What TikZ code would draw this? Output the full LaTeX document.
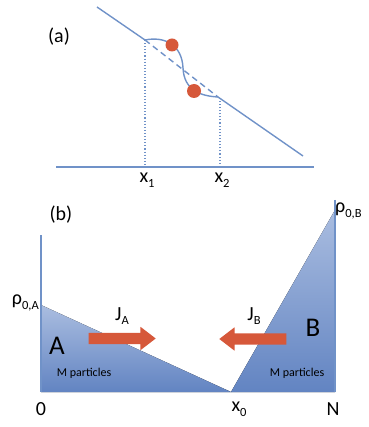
\documentclass[tikz,border=0pt]{standalone}
\usepackage{fontspec}
\setmainfont{Carlito}
\usetikzlibrary{shapes.arrows}
\definecolor{lineblue}{RGB}{112,146,200}
\definecolor{filltop}{RGB}{170,189,224}
\definecolor{fillbot}{RGB}{98,132,194}
\definecolor{dotred}{RGB}{214,88,58}
\newcommand{\lowsub}[1]{\raisebox{-0.5ex}{\fontsize{12.5}{13}\selectfont #1}}

\begin{document}
\begin{tikzpicture}[x=1pt,y=-1pt,
  font=\fontsize{20}{22}\selectfont,
  ln/.style={draw=lineblue,line width=1.4pt},
  dotline/.style={draw=lineblue,line width=1.1pt,dotted},
  dot/.style={circle,fill=dotred,inner sep=0pt,minimum size=#1},
  region/.style={top color=filltop,bottom color=fillbot,draw=none},
  flux/.style={single arrow,fill=dotred,draw=none,inner xsep=0pt,inner ysep=5.5pt,
    minimum height=67pt,single arrow head extend=6pt,single arrow tip angle=75,
    single arrow head indent=0pt},
  lbl/.style={inner sep=1pt}]
\useasboundingbox (0,0) rectangle (368,427);
% (a) profile with the two particles
\coordinate (p0) at (97,7);
\coordinate (p1) at (145,40);
\coordinate (pm) at (183,68);
\coordinate (p2) at (218,97);
\coordinate (p3) at (303,156);
\coordinate (ax0) at (56,167);
\coordinate (ax1) at (314,167);
\coordinate (f1) at (145,167);
\coordinate (f2) at (220,167);
\node[lbl] (la) at (59,37) {(a)};
\draw[ln] (ax0) -- (ax1);
\draw[dotline] (p1) -- (f1);
\draw[dotline] (f2) -- (220,97);
\draw[ln,dashed,dash pattern=on 6pt off 4pt] (p1) -- (p2);
\draw[ln] (p0) -- (p1) .. controls (165,36) and (182,45) .. (pm)
  .. controls (184,90) and (200,96) .. (p2) -- (p3);
\node[dot=13pt] (d1) at (172,45) {};
\node[dot=14pt] (d2) at (194,91) {};
\node[lbl,anchor=north] (x1) at (147,172) {x\lowsub{1}};
\node[lbl,anchor=north] (x2) at (222,172) {x\lowsub{2}};
% (b) initial profiles of A and B
\coordinate (o) at (41,392);
\coordinate (ra) at (41,305);
\coordinate (top) at (41,235);
\coordinate (x0) at (231,392);
\coordinate (n) at (335,392);
\coordinate (rb) at (335,210);
\coordinate (topb) at (335,200);
\fill[region] (ra) -- (x0) -- (o) -- cycle;
\fill[region] (x0) -- (rb) -- (n) -- cycle;
\draw[ln] (top) -- (o);
\draw[ln] (topb) -- (n);
\node[lbl] (lb) at (61,215) {(b)};
\node[lbl,anchor=east] (rhoa) at (40,303) {ρ\lowsub{0,A}};
\node[lbl,anchor=west] (rhob) at (334,211) {ρ\lowsub{0,B}};
\node[lbl] (o0) at (41,409) {0};
\node[lbl] (xx0) at (239,409) {x\lowsub{0}};
\node[lbl] (nn) at (333,409) {N};
\node[font=\fontsize{27}{29}\selectfont] (a) at (57,346) {A};
\node[font=\fontsize{27}{29}\selectfont] (b) at (313,328) {B};
\node[font=\fontsize{12}{14}\selectfont] (ma) at (84,373) {M particles};
\node[font=\fontsize{12}{14}\selectfont] (mb) at (297,373) {M particles};
\node[flux] (ja) at (118.5,338.5) {};
\node[flux,shape border rotate=180] (jb) at (256.5,339) {};
\node[lbl] (lja) at (122,316) {J\lowsub{A}};
\node[lbl] (ljb) at (254,316) {J\lowsub{B}};
\end{tikzpicture}
\end{document}
